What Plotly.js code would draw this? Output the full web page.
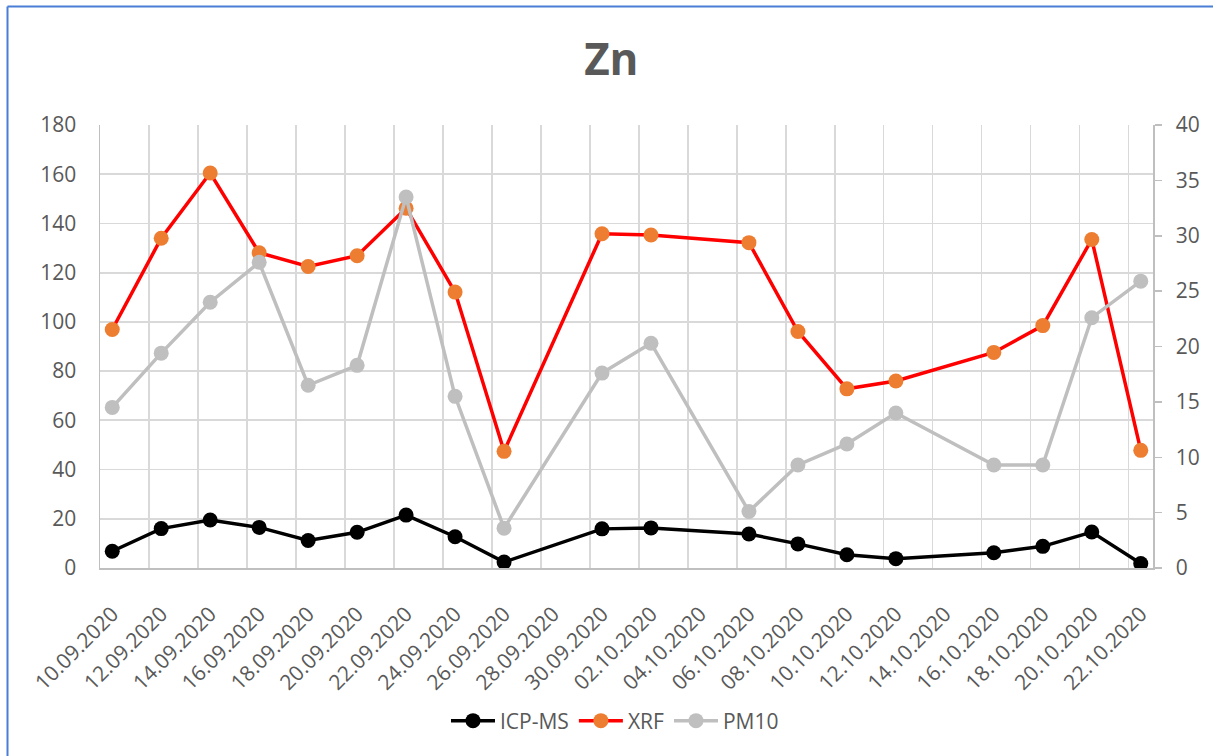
<!DOCTYPE html>
<html>
<head>
<meta charset="utf-8">
<script src="https://cdn.plot.ly/plotly-3.0.1.min.js"></script>
<style>
  html, body { margin: 0; padding: 0; background: #ffffff; }
  #chart { width: 1213px; height: 756px; }
</style>
</head>
<body>
<div id="chart"></div>
<script>
// ---- data ----
const sampleDates = ['2020-09-10','2020-09-12','2020-09-14','2020-09-16','2020-09-18','2020-09-20','2020-09-22','2020-09-24','2020-09-26','2020-09-30','2020-10-02','2020-10-06','2020-10-08','2020-10-10','2020-10-12','2020-10-16','2020-10-18','2020-10-20','2020-10-22'];
const icpms = [6.8, 16.0, 19.5, 16.5, 11.2, 14.5, 21.5, 12.7, 2.4, 15.9, 16.3, 13.8, 9.8, 5.4, 3.8, 6.2, 8.8, 14.6, 1.8];
const xrf   = [96.9, 134.0, 160.5, 128.1, 122.5, 126.9, 146.2, 112.1, 47.4, 135.8, 135.3, 132.2, 96.1, 72.8, 76.0, 87.6, 98.5, 133.5, 47.8];
const pm10  = [14.5, 19.4, 24.0, 27.6, 16.5, 18.3, 33.5, 15.5, 3.6, 17.6, 20.3, 5.1, 9.3, 11.2, 14.0, 9.3, 9.3, 22.6, 25.9];

const tickDates = ['2020-09-10','2020-09-12','2020-09-14','2020-09-16','2020-09-18','2020-09-20','2020-09-22','2020-09-24','2020-09-26','2020-09-28','2020-09-30','2020-10-02','2020-10-04','2020-10-06','2020-10-08','2020-10-10','2020-10-12','2020-10-14','2020-10-16','2020-10-18','2020-10-20','2020-10-22'];
const tickLabels = ['10.09.2020','12.09.2020','14.09.2020','16.09.2020','18.09.2020','20.09.2020','22.09.2020','24.09.2020','26.09.2020','28.09.2020','30.09.2020','02.10.2020','04.10.2020','06.10.2020','08.10.2020','10.10.2020','12.10.2020','14.10.2020','16.10.2020','18.10.2020','20.10.2020','22.10.2020'];

const seriesNames = ['ICP-MS', 'XRF', 'PM10'];
const chartTitle = 'Zn';

// ---- styling ----
const FONT = '"Open Sans", "Liberation Sans", sans-serif';
const TXT = '#595959';
const GRID = '#d9d9d9';
const AXIS = '#bfbfbf';
const DAY = 86400000;

const traces = [
  {
    x: sampleDates, y: icpms, name: seriesNames[0], type: 'scatter', mode: 'lines+markers',
    line: { color: '#000000', width: 3.5 },
    marker: { color: '#000000', size: 15 },
    yaxis: 'y'
  },
  {
    x: sampleDates, y: xrf, name: seriesNames[1], type: 'scatter', mode: 'lines+markers',
    line: { color: '#ff0000', width: 3.5 },
    marker: { color: '#ed7d31', size: 15 },
    yaxis: 'y'
  },
  {
    x: sampleDates, y: pm10, name: seriesNames[2], type: 'scatter', mode: 'lines+markers',
    line: { color: '#bfbfbf', width: 3.5 },
    marker: { color: '#bfbfbf', size: 15 },
    yaxis: 'y2'
  }
];

const L = 100, R = 1153, T = 125, B = 568;
const W = 1213, H = 756;
const px2x = v => (v - L) / (R - L);
const px2y = v => (B - v) / (B - T);

const layout = {
  width: W, height: H,
  margin: { l: L, r: W - R, t: T, b: H - B, pad: 0 },
  paper_bgcolor: '#ffffff',
  plot_bgcolor: '#ffffff',
  font: { family: FONT, color: TXT, size: 21 },
  title: {
    text: chartTitle,
    font: { family: FONT, size: 44, color: TXT, weight: 'bold' },
    xref: 'container', x: 0.504, xanchor: 'center',
    yref: 'container', y: 1 - 60 / H, yanchor: 'middle'
  },
  showlegend: true,
  legend: {
    orientation: 'h',
    xref: 'container', x: 0.507, xanchor: 'center',
    yref: 'container', y: 1 - 721 / H, yanchor: 'middle',
    font: { family: FONT, size: 21, color: TXT },
    itemwidth: 44,
    traceorder: 'normal'
  },
  xaxis: {
    type: 'date',
    range: ['2020-09-09 12:00', '2020-10-22 12:00'],
    tickmode: 'array',
    tickvals: tickDates,
    ticktext: tickLabels,
    tickangle: -45,
    tickfont: { family: FONT, size: 21, color: TXT },
    showgrid: false,
    zeroline: false,
    showline: true, linecolor: AXIS, linewidth: 1.5,
    ticks: '',
    ticklabelstandoff: 24,
    minor: {
      tick0: '2020-09-09 12:00', dtick: 2 * DAY,
      showgrid: true, gridcolor: GRID, gridwidth: 1.7, ticks: ''
    },
    fixedrange: true
  },
  yaxis: {
    range: [0, 180], tickmode: 'linear', tick0: 0, dtick: 20,
    showgrid: true, gridcolor: GRID, gridwidth: 1.7,
    zeroline: false,
    showline: true, linecolor: AXIS, linewidth: 1.5,
    ticks: '',
    ticklabelstandoff: 18,
    tickfont: { family: FONT, size: 21, color: TXT },
    fixedrange: true
  },
  yaxis2: {
    overlaying: 'y', side: 'right',
    range: [0, 40], tickmode: 'linear', tick0: 0, dtick: 5,
    showgrid: false, zeroline: false,
    showline: true, linecolor: AXIS, linewidth: 1.5,
    ticks: 'outside', ticklen: 7, tickwidth: 1.5, tickcolor: AXIS,
    ticklabelstandoff: 10,
    tickfont: { family: FONT, size: 21, color: TXT },
    fixedrange: true
  },
  shapes: [
    { type: 'line', xref: 'paper', yref: 'paper', layer: 'above',
      x0: px2x(7.5), x1: px2x(7.5), y0: px2y(H + 10), y1: px2y(6.5),
      line: { color: '#4a7ed6', width: 2 } },
    { type: 'line', xref: 'paper', yref: 'paper', layer: 'above',
      x0: px2x(7.5), x1: px2x(W + 10), y0: px2y(6.5), y1: px2y(6.5),
      line: { color: '#4a7ed6', width: 2 } }
  ]
};

Plotly.newPlot('chart', traces, layout, { displayModeBar: false, staticPlot: true });
</script>
</body>
</html>
